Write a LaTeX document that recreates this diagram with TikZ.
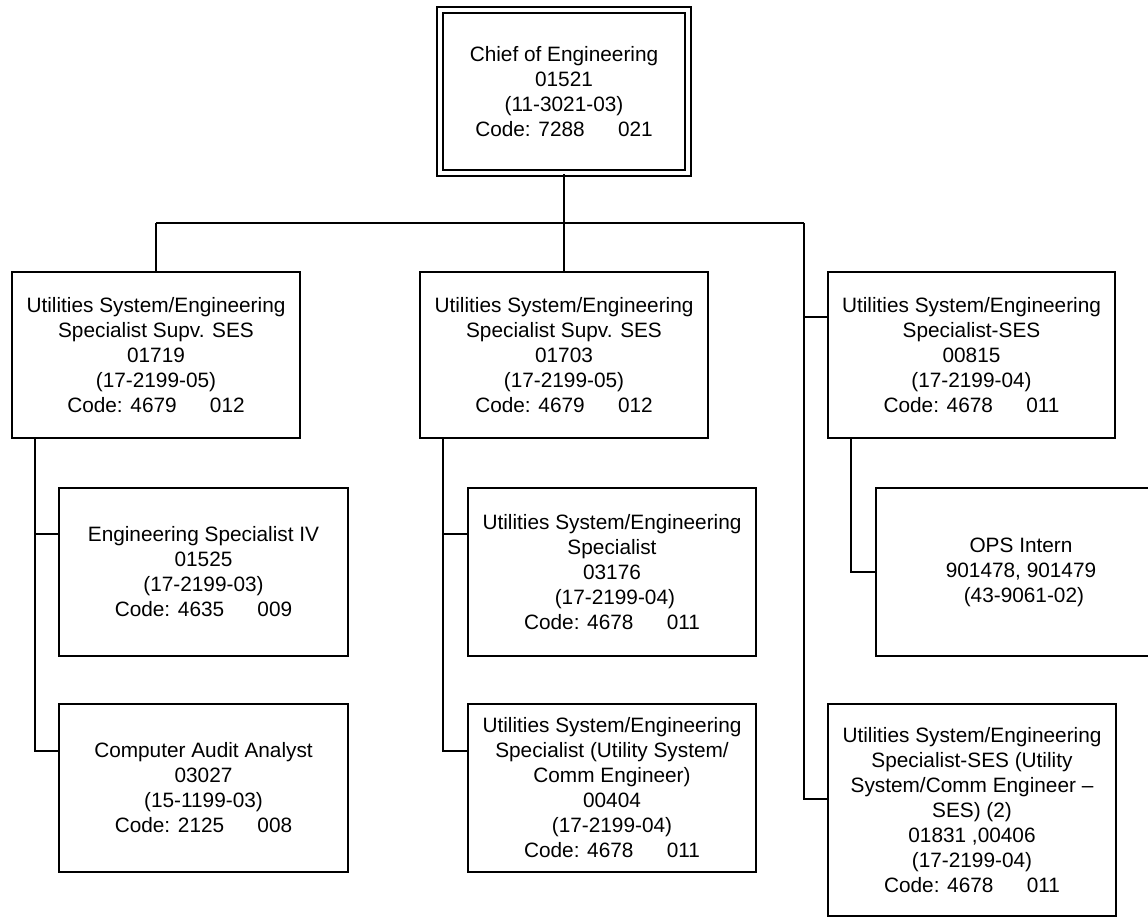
\documentclass[tikz,border=0pt]{standalone}
\usepackage{fontspec}
\setmainfont{Liberation Sans}
\usetikzlibrary{calc}
\newcommand{\codegap}{\hspace{1.6em}}
\begin{document}
\begin{tikzpicture}[x=1pt,y=-1pt,
  box/.style={draw=black, line width=2pt, fill=white, inner sep=0pt,
    align=center, font=\fontsize{20.8}{25}\selectfont},
  chiefbox/.style={box, double, double distance=4pt},
  conn/.style={draw=black, line width=2pt}]
  % canvas
  \fill[white] (0,0) rectangle (1148,918);
  \useasboundingbox (0,0) rectangle (1148,918);

  % top position
  \node[chiefbox, minimum width=248pt, minimum height=163pt] (chief) at (564,91.5)
    {Chief of Engineering\\01521\\(11-3021-03)\\Code: 7288\codegap 021};

  % second level
  \node[box, minimum width=288pt, minimum height=166pt] (usA) at (156,355)
    {Utilities System/Engineering\\Specialist Supv. SES\\01719\\(17-2199-05)\\Code: 4679\codegap 012};
  \node[box, minimum width=288pt, minimum height=166pt] (usB) at (564,355)
    {Utilities System/Engineering\\Specialist Supv. SES\\01703\\(17-2199-05)\\Code: 4679\codegap 012};
  \node[box, minimum width=287pt, minimum height=166pt] (usC) at (971.5,355)
    {Utilities System/Engineering\\Specialist-SES\\00815\\(17-2199-04)\\Code: 4678\codegap 011};

  % third level, left branch
  \node[box, minimum width=289pt, minimum height=168pt] (eng4) at (203.5,572)
    {Engineering Specialist IV\\01525\\(17-2199-03)\\Code: 4635\codegap 009};
  \node[box, minimum width=289pt, minimum height=168pt] (audit) at (203.5,788)
    {Computer Audit Analyst\\03027\\(15-1199-03)\\Code: 2125\codegap 008};

  % third level, middle branch
  \node[box, minimum width=288pt, minimum height=168pt] (spec) at (612,572)
    {Utilities System/Engineering\\Specialist\\03176\\\hspace*{0.28em}(17-2199-04)\\Code: 4678\codegap 011};
  \node[box, minimum width=288pt, minimum height=168pt] (comm) at (612,788)
    {Utilities System/Engineering\\Specialist (Utility System/\\Comm Engineer)\\00404\\(17-2199-04)\\Code: 4678\codegap 011};

  % third level, right branch
  \node[box, minimum width=290pt, minimum height=168pt] (ops) at (1021,572)
    {OPS Intern\\901478, 901479\\\hspace*{0.28em}(43-9061-02)};
  \node[box, minimum width=288pt, minimum height=212pt] (ses2) at (972,810)
    {Utilities System/Engineering\\Specialist-SES (Utility\\System/Comm Engineer --\\SES) (2)\\01831 ,00406\\(17-2199-04)\\Code: 4678\codegap 011};

  % main bus
  \coordinate (busL) at (156,223);
  \coordinate (busR) at (804,223);
  \draw[conn] (chief.south) -- (usB.north);
  \draw[conn] (busL) -- (busR);
  \draw[conn] (busL) -- (usA.north);
  \coordinate (usCin) at ($(usC.north west)+(0,46)$);
  \coordinate (ses2in) at ($(ses2.north west)+(0,96)$);
  \draw[conn] (busR) -- (busR |- ses2in) -- (ses2in);
  \draw[conn] (usCin -| busR) -- (usCin);

  % left branch
  \coordinate (lA) at ($(usA.south west)+(24,0)$);
  \coordinate (eng4in) at ($(eng4.north west)+(0,47)$);
  \coordinate (auditin) at ($(audit.north west)+(0,48)$);
  \draw[conn] (lA) |- (auditin);
  \draw[conn] (eng4in -| lA) -- (eng4in);

  % middle branch
  \coordinate (lB) at ($(usB.south west)+(24,0)$);
  \coordinate (specin) at ($(spec.north west)+(0,47)$);
  \coordinate (commin) at ($(comm.north west)+(0,48)$);
  \draw[conn] (lB) |- (commin);
  \draw[conn] (specin -| lB) -- (specin);

  % right branch
  \coordinate (lC) at ($(usC.south west)+(24,0)$);
  \draw[conn] (lC) |- (ops.west);
\end{tikzpicture}
\end{document}
